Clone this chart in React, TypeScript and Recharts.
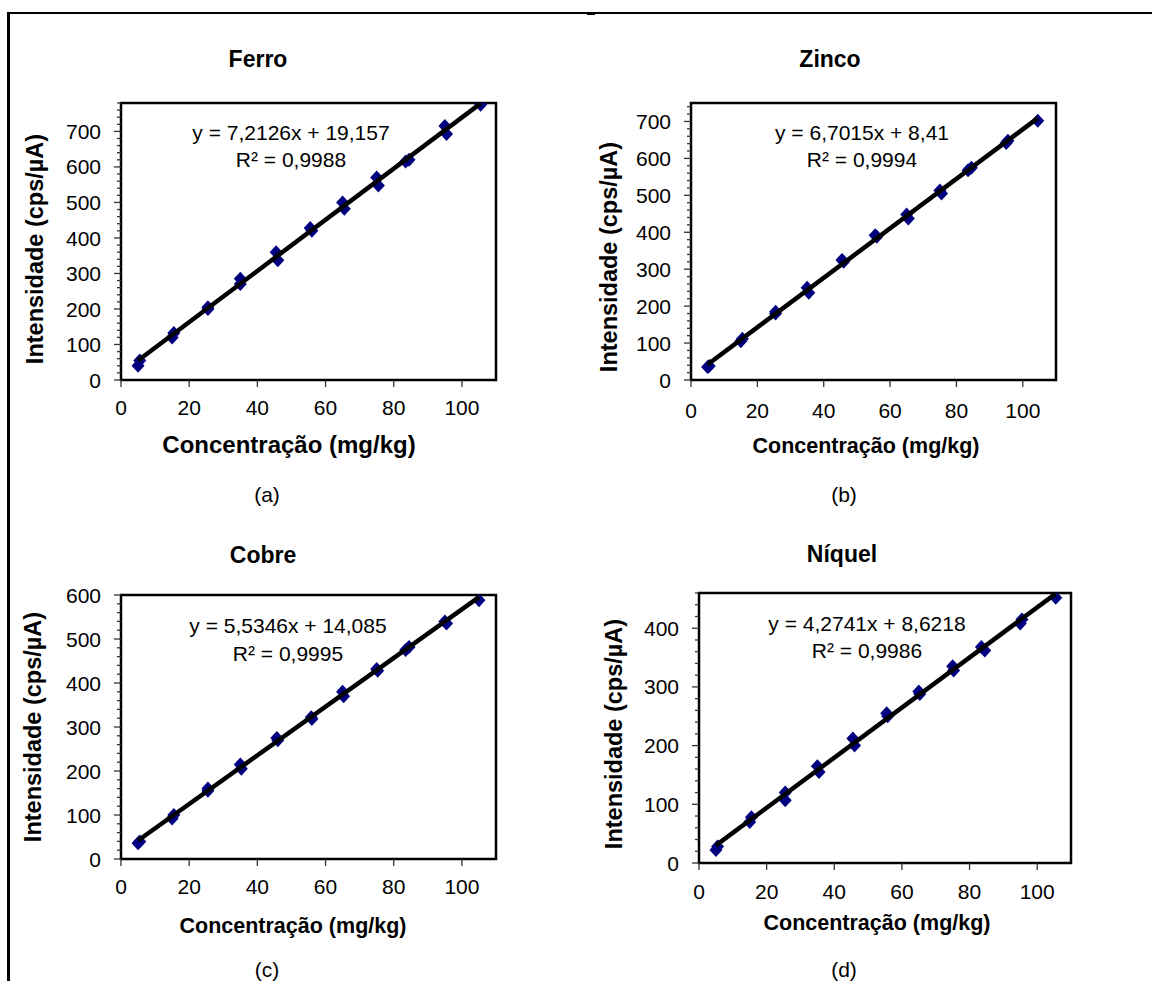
import React from 'react';
import { ScatterChart, Scatter, XAxis, YAxis, ReferenceArea } from 'recharts';

const FONT = '"Liberation Sans", Arial, Helvetica, sans-serif';
const PAGE_W = 1152;
const PAGE_H = 981;

// ---------------- data ----------------
const xTicks = [0, 20, 40, 60, 80, 100];

const ferroPoints = [
  { x: 5, y: 40 }, { x: 5.5, y: 55 }, { x: 15, y: 120 }, { x: 15.5, y: 132 },
  { x: 25.5, y: 200 }, { x: 25.5, y: 205 }, { x: 35, y: 270 }, { x: 35, y: 285 },
  { x: 45.5, y: 360 }, { x: 46, y: 337 }, { x: 55.5, y: 428 }, { x: 56, y: 420 },
  { x: 65, y: 500 }, { x: 65.5, y: 482 }, { x: 75, y: 570 }, { x: 75.5, y: 548 },
  { x: 83.5, y: 615 }, { x: 84.5, y: 620 }, { x: 95, y: 715 }, { x: 95.5, y: 693 },
  { x: 105.5, y: 775 },
];
const zincoPoints = [
  { x: 5, y: 35 }, { x: 5.5, y: 38 }, { x: 15, y: 105 }, { x: 15.5, y: 112 },
  { x: 25.5, y: 180 }, { x: 25.5, y: 185 }, { x: 35, y: 250 }, { x: 35.5, y: 236 },
  { x: 45.5, y: 325 }, { x: 46, y: 320 }, { x: 55.5, y: 392 }, { x: 56, y: 388 },
  { x: 65, y: 448 }, { x: 65.5, y: 437 }, { x: 75, y: 513 }, { x: 75.5, y: 505 },
  { x: 83.5, y: 568 }, { x: 84.5, y: 575 }, { x: 95, y: 642 }, { x: 95.5, y: 648 },
  { x: 104.5, y: 702 },
];
const cobrePoints = [
  { x: 5, y: 36 }, { x: 5.5, y: 40 }, { x: 15, y: 92 }, { x: 15.5, y: 100 },
  { x: 25.5, y: 160 }, { x: 25.5, y: 155 }, { x: 35, y: 215 }, { x: 35.3, y: 205 },
  { x: 45.7, y: 275 }, { x: 46, y: 270 }, { x: 55.8, y: 322 }, { x: 56, y: 318 },
  { x: 65, y: 380 }, { x: 65.3, y: 370 }, { x: 75, y: 432 }, { x: 75.3, y: 428 },
  { x: 83.5, y: 475 }, { x: 84.5, y: 482 }, { x: 95, y: 540 }, { x: 95.5, y: 535 },
  { x: 105, y: 588 },
];
const niquelPoints = [
  { x: 5, y: 22 }, { x: 5.5, y: 28 }, { x: 15, y: 70 }, { x: 15.5, y: 78 },
  { x: 25.5, y: 120 }, { x: 25.5, y: 107 }, { x: 35, y: 165 }, { x: 35.5, y: 155 },
  { x: 45.5, y: 212 }, { x: 46, y: 200 }, { x: 55.5, y: 255 }, { x: 55.8, y: 250 },
  { x: 65, y: 292 }, { x: 65.3, y: 288 }, { x: 75, y: 335 }, { x: 75.3, y: 328 },
  { x: 83.5, y: 368 }, { x: 84.5, y: 362 }, { x: 95, y: 408 }, { x: 95.5, y: 415 },
  { x: 105.5, y: 452 },
];

// trend line end points (as drawn)
const ferroTrend = [{ x: 5, y: 55 }, { x: 105.5, y: 779 }];
const zincoTrend = [{ x: 5, y: 42 }, { x: 104.5, y: 709 }];
const cobreTrend = [{ x: 5, y: 42 }, { x: 105, y: 595 }];
const niquelTrend = [{ x: 5, y: 30 }, { x: 105.5, y: 459 }];

const ferroYMax = 780;
const zincoYMax = 750;
const cobreYMax = 600;
const niquelYMax = 460;

const titles = ['Ferro', 'Zinco', 'Cobre', 'Níquel'];
const equations = ['y = 7,2126x + 19,157', 'y = 6,7015x + 8,41', 'y = 5,5346x + 14,085', 'y = 4,2741x + 8,6218'];
const r2Labels = ['R² = 0,9988', 'R² = 0,9994', 'R² = 0,9995', 'R² = 0,9986'];
const captions = ['(a)', '(b)', '(c)', '(d)'];
const xAxisTitle = 'Concentração (mg/kg)';
const yAxisTitle = 'Intensidade (cps/µA)';

const minorStep = 20;
const makeTicks = (max: number) => {
  const t: number[] = [];
  for (let v = 0; v <= max; v += minorStep) t.push(v);
  return t;
};

// ---------------- layout ----------------
type Panel = {
  points: { x: number; y: number }[];
  trend: { x: number; y: number }[];
  yMax: number;
  box: { l: number; r: number; t: number; b: number };
  title: [number, number];
  eq: [number, number, number];
  ylab: [number, number];
  xlab: [number, number, number];
  cap: [number, number];
  xTickGap: number;
};

const panels: Panel[] = [
  {
    points: ferroPoints, trend: ferroTrend, yMax: ferroYMax,
    box: { l: 121, r: 496, t: 103, b: 380 },
    title: [258, 59], eq: [291, 132, 159], ylab: [36, 249], xlab: [289, 445, 24], cap: [267, 494], xTickGap: 13,
  },
  {
    points: zincoPoints, trend: zincoTrend, yMax: zincoYMax,
    box: { l: 691, r: 1056, t: 103, b: 380 },
    title: [830, 59], eq: [862, 132, 159], ylab: [610, 257], xlab: [866, 447, 21.5], cap: [844, 494], xTickGap: 16,
  },
  {
    points: cobrePoints, trend: cobreTrend, yMax: cobreYMax,
    box: { l: 121, r: 496, t: 595, b: 859 },
    title: [263, 555], eq: [288, 625, 653], ylab: [34, 727], xlab: [293, 927, 21.5], cap: [267, 969], xTickGap: 13,
  },
  {
    points: niquelPoints, trend: niquelTrend, yMax: niquelYMax,
    box: { l: 699, r: 1071, t: 593, b: 863 },
    title: [842, 554], eq: [867, 623, 650], ylab: [615, 734], xlab: [877, 924, 21.5], cap: [844, 969], xTickGap: 14,
  },
];

const Y_AXIS_W = 80;
const X_AXIS_H = 50;

const YTick = (props: any) => {
  const { x, y, payload } = props;
  const major = payload.value % 100 === 0;
  const len = major ? 7 : 4;
  return (
    <g>
      <line x1={x} x2={x - len} y1={y} y2={y} stroke="#333" strokeWidth={1.3} />
      {major && (
        <text x={x - 20} y={y} dy="0.36em" textAnchor="end" fontSize={21} fontFamily={FONT} fill="#000">
          {payload.value}
        </text>
      )}
    </g>
  );
};

const Diamond = (props: any) => {
  const { cx, cy } = props;
  if (cx == null || cy == null) return <g />;
  const w = 6.5;
  const h = 7;
  return <polygon points={`${cx},${cy - h} ${cx + w},${cy} ${cx},${cy + h} ${cx - w},${cy}`} fill="#000080" />;
};

const NoShape = () => <g />;

const abs = (x: number, y: number, extra: React.CSSProperties = {}): React.CSSProperties => ({
  position: 'absolute', left: x, top: y, transform: 'translate(-50%, -50%)', whiteSpace: 'nowrap',
  fontFamily: FONT, color: '#000', lineHeight: 1, ...extra,
});

const PanelChart = ({ p }: { p: Panel }) => {
  const margin = {
    top: p.box.t,
    right: PAGE_W - p.box.r,
    bottom: PAGE_H - p.box.b - X_AXIS_H,
    left: p.box.l - Y_AXIS_W,
  };
  return (
    <div style={{ position: 'absolute', left: 0, top: 0 }}>
      <ScatterChart width={PAGE_W} height={PAGE_H} margin={margin}>
        <XAxis
          type="number" dataKey="x" domain={[0, 110]} ticks={xTicks} interval={0} allowDataOverflow
          axisLine={false} tickSize={7} tickMargin={p.xTickGap} height={X_AXIS_H}
          tickLine={{ stroke: '#333', strokeWidth: 1.3 }}
          tick={{ fontSize: 21, fontFamily: FONT, fill: '#000' }}
        />
        <YAxis
          type="number" dataKey="y" domain={[0, p.yMax]} ticks={makeTicks(p.yMax)} interval={0} allowDataOverflow
          axisLine={false} tickLine={false} tickSize={0} tickMargin={0} width={Y_AXIS_W} tick={<YTick />}
        />
        <ReferenceArea x1={0} x2={110} y1={0} y2={p.yMax} fill="none" fillOpacity={0} stroke="#000" strokeWidth={2.5} ifOverflow="visible" />
        <Scatter data={p.points} shape={<Diamond />} isAnimationActive={false} />
        <Scatter data={p.trend} shape={<NoShape />} line={{ stroke: '#000', strokeWidth: 4.5 }} isAnimationActive={false} />
      </ScatterChart>
    </div>
  );
};

export default function App() {
  return (
    <div style={{ position: 'absolute', left: 0, top: 0, width: PAGE_W, height: PAGE_H, background: '#fff', overflow: 'hidden' }}>
      {/* frame lines */}
      <div style={{ position: 'absolute', left: 7, top: 12, width: PAGE_W - 7, height: 2, background: '#000' }} />
      <div style={{ position: 'absolute', left: 7, top: 12, width: 2.5, height: PAGE_H - 12, background: '#000' }} />
      <div style={{ position: 'absolute', left: 587, top: 12, width: 8, height: 3, background: '#000' }} />
      {panels.map((p, i) => (
        <PanelChart key={i} p={p} />
      ))}
      {panels.map((p, i) => (
        <React.Fragment key={'t' + i}>
          <div style={abs(p.title[0], p.title[1], { fontSize: 23, fontWeight: 'bold' })}>{titles[i]}</div>
          <div style={abs(p.eq[0], p.eq[1], { fontSize: 21 })}>{equations[i]}</div>
          <div style={abs(p.eq[0], p.eq[2], { fontSize: 21 })}>{r2Labels[i]}</div>
          <div style={abs(p.ylab[0], p.ylab[1], { fontSize: 23.5, fontWeight: 'bold', transform: 'translate(-50%, -50%) rotate(-90deg)' })}>{yAxisTitle}</div>
          <div style={abs(p.xlab[0], p.xlab[1], { fontSize: p.xlab[2], fontWeight: 'bold' })}>{xAxisTitle}</div>
          <div style={abs(p.cap[0], p.cap[1], { fontSize: 21 })}>{captions[i]}</div>
        </React.Fragment>
      ))}
    </div>
  );
}
